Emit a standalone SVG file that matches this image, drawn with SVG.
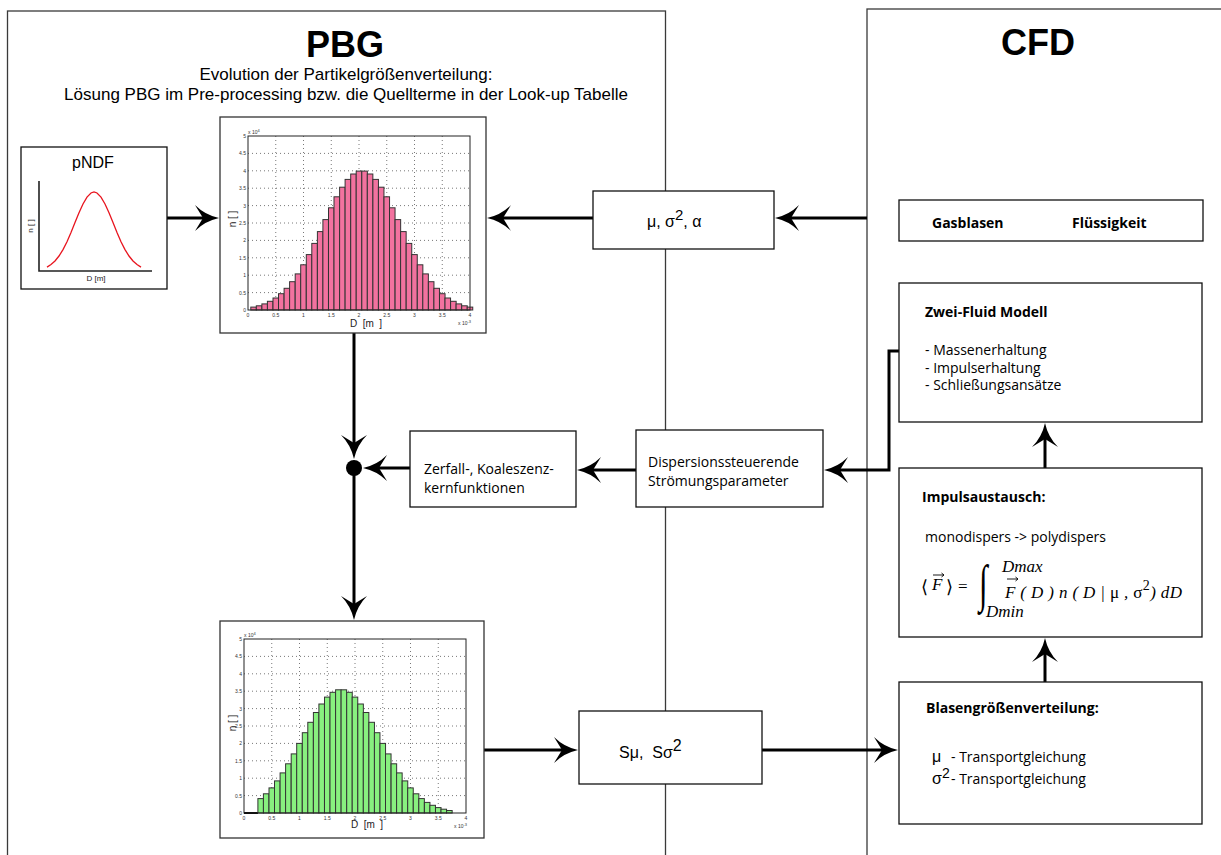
<svg xmlns="http://www.w3.org/2000/svg" xmlns:xlink="http://www.w3.org/1999/xlink" width="1221" height="855" viewBox="0 0 1221 855">
<style>
.panel{fill:none;stroke:#3a3a3a;stroke-width:1.3}
.box{fill:#fff;stroke:#111;stroke-width:1.3}
.hbox{fill:#fff;stroke:#333;stroke-width:1.3}
.conn{fill:none;stroke:#000;stroke-width:3;marker-end:url(#ah)}
.ttl{font-family:"Liberation Sans",Arial,sans-serif;font-weight:bold;font-size:36px;text-anchor:middle}
.sub{font-family:"Liberation Sans",Arial,sans-serif;font-size:17px;text-anchor:middle}
.ar{font-family:"Liberation Sans",Arial,sans-serif;font-size:16px}
.os{font-family:"Open Sans",sans-serif;font-size:14px}
.osb{font-family:"Open Sans",sans-serif;font-size:14px;font-weight:bold}
.tick{font-family:"Liberation Sans",Arial,sans-serif;font-size:5px;fill:#333}
.ax{font-family:"Liberation Sans",Arial,sans-serif;font-size:10px;fill:#222}
.sm{font-family:"Liberation Sans",Arial,sans-serif;font-size:8px;fill:#222}
.grid{fill:none;stroke:#555;stroke-width:0.8;stroke-dasharray:1 3}
.frame{fill:none;stroke:#222;stroke-width:1}
.pink rect{fill:#f2729f;stroke:#333;stroke-width:1}
.green rect{fill:#88f07f;stroke:#333;stroke-width:1}
.math{font-family:"Liberation Serif","Times New Roman",serif;font-style:italic;font-size:17px}
.up{font-style:normal}
.vec{fill:none;stroke:#000;stroke-width:0.9}
</style>
<defs>
<marker id="ah" markerUnits="userSpaceOnUse" viewBox="0 -13 24 26" refX="14" refY="0" markerWidth="24" markerHeight="26" orient="auto">
<path d="M24,0 Q10,-3 0,-13 L8,0 L0,13 Q10,3 24,0 Z" fill="#000"/>
</marker>
<g id="plotgrid">
<path class="grid" d="M27.75,0V174M55.5,0V174M83.25,0V174M111,0V174M138.75,0V174M166.5,0V174M194.25,0V174M0,17.4H222M0,34.8H222M0,52.2H222M0,69.6H222M0,87H222M0,104.4H222M0,121.8H222M0,139.2H222M0,156.6H222"/>
<g class="tick" text-anchor="end">
<text x="-2" y="176">0</text><text x="-2" y="158.6">0.5</text><text x="-2" y="141.2">1</text><text x="-2" y="123.8">1.5</text><text x="-2" y="106.4">2</text><text x="-2" y="89">2.5</text><text x="-2" y="71.6">3</text><text x="-2" y="54.2">3.5</text><text x="-2" y="36.8">4</text><text x="-2" y="19.4">4.5</text><text x="-2" y="2">5</text>
</g>
<g class="tick" text-anchor="middle">
<text x="0" y="181">0</text><text x="27.75" y="181">0.5</text><text x="55.5" y="181">1</text><text x="83.25" y="181">1.5</text><text x="111" y="181">2</text><text x="138.75" y="181">2.5</text><text x="166.5" y="181">3</text><text x="194.25" y="181">3.5</text><text x="222" y="181">4</text>
</g>
<text class="tick" x="0" y="-2">x 10<tspan dy="-2" font-size="4">4</tspan></text>
<text class="tick" x="210" y="189">x 10<tspan dy="-2" font-size="4">-3</tspan></text>
</g>
</defs>
<rect width="1221" height="855" fill="#fff"/>

<g id="panel-pbg">
<rect class="panel" x="7.5" y="11" width="658" height="900"/>
<text class="ttl" x="345" y="57">PBG</text>
<text class="sub" x="346" y="80">Evolution der Partikelgrößenverteilung:</text>
<text class="sub" x="346" y="100">Lösung PBG im Pre-processing bzw. die Quellterme in der Look-up Tabelle</text>
</g>
<g id="panel-cfd">
<rect class="panel" x="867" y="9" width="400" height="900"/>
<text class="ttl" x="1038" y="55">CFD</text>
</g>

<g id="connectors">
<path class="conn" d="M167,218H209"/>
<path class="conn" d="M593,218H497"/>
<path class="conn" d="M867,218H785"/>
<path class="conn" d="M354,333V449"/>
<path class="conn" d="M410,468H373"/>
<path class="conn" d="M354,468V610"/>
<path class="conn" d="M636,470H587"/>
<path class="conn" d="M899,351H889V470H834"/>
<path class="conn" d="M484,750H568"/>
<path class="conn" d="M762,750H888"/>
<path class="conn" d="M1045,682V648"/>
<path class="conn" d="M1045,468V433"/>
</g>

<g id="junction">
<circle cx="354" cy="468" r="8" fill="#000"/>
</g>

<g id="pndf">
<rect class="box" x="21" y="147" width="146" height="142"/>
<text class="ar" x="93" y="168" text-anchor="middle" font-size="15">pNDF</text>
<path d="M39,181V271H152" fill="none" stroke="#222" stroke-width="1.6"/>
<polyline fill="none" stroke="#e8141e" stroke-width="1.3" points="47,267.1 51,264.6 55,261 59,256 63,249.6 67,241.7 71,232.5 75,222.6 79,212.8 83,204 87,197.1 91,193 94,192 97,193 101,197.1 105,204 109,212.8 113,222.6 117,232.5 121,241.7 125,249.6 129,256 133,261 137,264.6 141,267.1"/>
<text class="sm" x="33" y="226" text-anchor="middle" transform="rotate(-90 33 226)">n [ ]</text>
<text class="sm" x="96" y="281" text-anchor="middle">D [m]</text>
</g>

<g id="hist-pink">
<rect class="hbox" x="220" y="117" width="266" height="216"/>
<use xlink:href="#plotgrid" href="#plotgrid" x="248" y="136"/>
<g class="pink">
<rect x="250.8" y="307.1" width="5.55" height="2.9"/><rect x="256.3" y="305.8" width="5.55" height="4.2"/><rect x="261.9" y="303.9" width="5.55" height="6.1"/><rect x="267.4" y="301.3" width="5.55" height="8.7"/><rect x="273" y="298" width="5.55" height="12"/><rect x="278.5" y="293.7" width="5.55" height="16.3"/><rect x="284.1" y="288.3" width="5.55" height="21.7"/><rect x="289.6" y="281.7" width="5.55" height="28.3"/><rect x="295.2" y="273.9" width="5.55" height="36.1"/><rect x="300.7" y="264.8" width="5.55" height="45.2"/><rect x="306.3" y="254.6" width="5.55" height="55.4"/><rect x="311.8" y="243.4" width="5.55" height="66.6"/><rect x="317.4" y="231.6" width="5.55" height="78.4"/><rect x="322.9" y="219.6" width="5.55" height="90.4"/><rect x="328.5" y="207.8" width="5.55" height="102.2"/><rect x="334" y="196.8" width="5.55" height="113.2"/><rect x="339.6" y="187.2" width="5.55" height="122.8"/><rect x="345.1" y="179.4" width="5.55" height="130.6"/><rect x="350.7" y="174" width="5.55" height="136"/><rect x="356.2" y="171.1" width="5.55" height="138.9"/><rect x="361.8" y="171.1" width="5.55" height="138.9"/><rect x="367.3" y="174" width="5.55" height="136"/><rect x="372.9" y="179.4" width="5.55" height="130.6"/><rect x="378.4" y="187.2" width="5.55" height="122.8"/><rect x="384" y="196.8" width="5.55" height="113.2"/><rect x="389.5" y="207.8" width="5.55" height="102.2"/><rect x="395.1" y="219.6" width="5.55" height="90.4"/><rect x="400.6" y="231.6" width="5.55" height="78.4"/><rect x="406.2" y="243.4" width="5.55" height="66.6"/><rect x="411.7" y="254.6" width="5.55" height="55.4"/><rect x="417.3" y="264.8" width="5.55" height="45.2"/><rect x="422.8" y="273.9" width="5.55" height="36.1"/><rect x="428.4" y="281.7" width="5.55" height="28.3"/><rect x="433.9" y="288.3" width="5.55" height="21.7"/><rect x="439.5" y="293.7" width="5.55" height="16.3"/><rect x="445" y="298" width="5.55" height="12"/><rect x="450.6" y="301.3" width="5.55" height="8.7"/><rect x="456.1" y="303.9" width="5.55" height="6.1"/><rect x="461.7" y="305.8" width="5.55" height="4.2"/><rect x="467.2" y="307.1" width="5.55" height="2.9"/>
</g>
<rect class="frame" x="248" y="136" width="222" height="174"/>
<text class="ax" x="236" y="219" text-anchor="middle" font-size="9" transform="rotate(-90 236 219)">n [ ]</text>
<text class="ax" x="366" y="327" text-anchor="middle">D&#160; [m&#160; ]</text>
</g>

<g id="hist-green">
<rect class="hbox" x="220" y="621" width="264" height="217"/>
<use xlink:href="#plotgrid" href="#plotgrid" x="244" y="639"/>
<path d="M244,813H258" stroke="#000" stroke-width="2"/>
<g class="green">
<rect x="257.9" y="798.6" width="5.55" height="14.4"/><rect x="263.4" y="793.8" width="5.55" height="19.2"/><rect x="269" y="787.9" width="5.55" height="25.1"/><rect x="274.5" y="780.9" width="5.55" height="32.1"/><rect x="280.1" y="772.9" width="5.55" height="40.1"/><rect x="285.6" y="763.8" width="5.55" height="49.2"/><rect x="291.2" y="753.9" width="5.55" height="59.1"/><rect x="296.7" y="743.4" width="5.55" height="69.6"/><rect x="302.3" y="732.7" width="5.55" height="80.3"/><rect x="307.8" y="722.3" width="5.55" height="90.7"/><rect x="313.4" y="712.5" width="5.55" height="100.5"/><rect x="318.9" y="704" width="5.55" height="109"/><rect x="324.5" y="697.1" width="5.55" height="115.9"/><rect x="330" y="692.3" width="5.55" height="120.7"/><rect x="335.6" y="689.8" width="5.55" height="123.2"/><rect x="341.1" y="689.8" width="5.55" height="123.2"/><rect x="346.7" y="692.3" width="5.55" height="120.7"/><rect x="352.2" y="697.1" width="5.55" height="115.9"/><rect x="357.8" y="704" width="5.55" height="109"/><rect x="363.3" y="712.5" width="5.55" height="100.5"/><rect x="368.9" y="722.3" width="5.55" height="90.7"/><rect x="374.4" y="732.7" width="5.55" height="80.3"/><rect x="380" y="743.4" width="5.55" height="69.6"/><rect x="385.5" y="753.9" width="5.55" height="59.1"/><rect x="391.1" y="763.8" width="5.55" height="49.2"/><rect x="396.6" y="772.9" width="5.55" height="40.1"/><rect x="402.2" y="780.9" width="5.55" height="32.1"/><rect x="407.7" y="787.9" width="5.55" height="25.1"/><rect x="413.3" y="793.8" width="5.55" height="19.2"/><rect x="418.8" y="798.6" width="5.55" height="14.4"/><rect x="424.4" y="802.4" width="5.55" height="10.6"/><rect x="429.9" y="805.3" width="5.55" height="7.7"/><rect x="435.5" y="807.6" width="5.55" height="5.4"/><rect x="441" y="809.2" width="5.55" height="3.8"/><rect x="446.6" y="810.5" width="5.55" height="2.5"/>
</g>
<rect class="frame" x="244" y="639" width="222" height="174"/>
<text class="ax" x="236" y="723" text-anchor="middle" font-size="9" transform="rotate(-90 236 723)">n [ ]</text>
<text class="ax" x="367" y="828" text-anchor="middle">D&#160; [m&#160; ]</text>
</g>

<g id="params">
<rect class="box" x="593" y="191" width="181" height="58"/>
<text class="ar" x="647" y="227">μ, σ<tspan dy="-7" font-size="15">2</tspan><tspan dy="7">, α</tspan></text>
</g>

<g id="zerfall">
<rect class="box" x="410" y="431" width="166" height="76"/>
<text class="os" x="424" y="474">Zerfall-, Koaleszenz-</text>
<text class="os" x="424" y="493">kernfunktionen</text>
</g>

<g id="dispersion">
<rect class="box" x="636" y="430" width="187" height="77"/>
<text class="os" x="648" y="467">Dispersionssteuerende</text>
<text class="os" x="648" y="486">Strömungsparameter</text>
</g>

<g id="sources">
<rect class="box" x="579" y="711" width="183" height="73"/>
<text class="ar" x="619" y="758" font-size="17">Sμ,&#160; Sσ<tspan dy="-7" font-size="16">2</tspan></text>
</g>

<g id="phasen">
<rect class="box" x="899" y="200" width="304" height="41"/>
<text class="osb" x="932" y="228">Gasblasen</text>
<text class="osb" x="1072" y="228">Flüssigkeit</text>
</g>

<g id="zweifluid">
<rect class="box" x="899" y="283" width="303" height="139"/>
<text class="osb" x="925" y="317">Zwei-Fluid Modell</text>
<text class="os" x="925" y="355">- Massenerhaltung</text>
<text class="os" x="925" y="373">- Impulserhaltung</text>
<text class="os" x="925" y="390">- Schließungsansätze</text>
</g>

<g id="impuls">
<rect class="box" x="899" y="468" width="303" height="169"/>
<text class="osb" x="922" y="502">Impulsaustausch:</text>
<text class="os" x="925" y="542" font-size="14.5">monodispers -&gt; polydispers</text>
<text x="921" y="593" font-family="DejaVu Serif,serif" font-size="18">⟨</text>
<text class="math" x="932" y="590">F</text>
<path class="vec" d="M933,575H944M941.5,573L944,575L941.5,577"/>
<text x="946" y="593" font-family="DejaVu Serif,serif" font-size="18">⟩</text>
<text class="math up" x="958" y="592">=</text>
<text x="0" y="601" font-family="Liberation Serif,DejaVu Serif,serif" font-size="52" transform="translate(979,0) scale(0.6,1)">∫</text>
<text class="math" x="1002" y="572">Dmax</text>
<text class="math" x="986" y="617">Dmin</text>
<text class="math" x="1005" y="598" textLength="177" lengthAdjust="spacing">F ( D ) n ( D | <tspan class="up">μ</tspan> , <tspan class="up">σ</tspan><tspan class="up" dy="-8" font-size="14">2</tspan><tspan dy="8">) dD</tspan></text>
<path class="vec" d="M1007,579H1018M1015.5,577L1018,579L1015.5,581"/>
</g>

<g id="blasen">
<rect class="box" x="899" y="682" width="303" height="142"/>
<text class="osb" x="926" y="713" font-size="13.3">Blasengrößenverteilung:</text>
<text class="ar" x="932" y="762" font-size="15">μ</text>
<text class="os" x="951" y="762" font-size="15">- Transportgleichung</text>
<text class="ar" x="932" y="784" font-size="15">σ<tspan dy="-6" font-size="14">2</tspan></text>
<text class="os" x="951" y="784" font-size="15">- Transportgleichung</text>
</g>
</svg>
